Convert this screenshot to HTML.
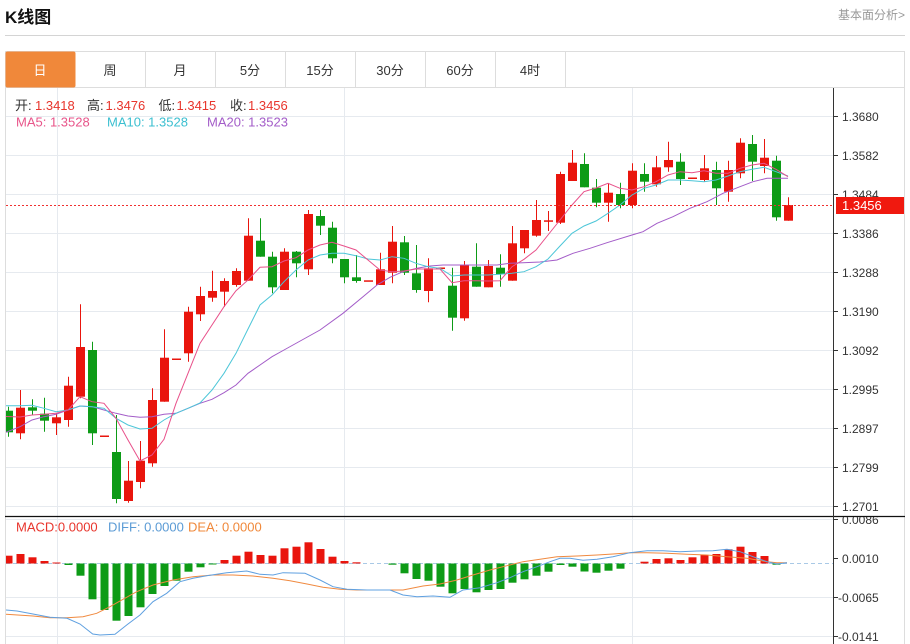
<!DOCTYPE html>
<html><head><meta charset="utf-8"><style>
html,body{margin:0;padding:0;background:#fff;width:910px;height:644px;overflow:hidden}
svg{display:block}
text{font-family:"Liberation Sans","Noto Sans CJK SC",sans-serif}
</style></head><body>
<svg width="910" height="644" viewBox="0 0 910 644" xmlns="http://www.w3.org/2000/svg">
<defs>
<clipPath id="plot"><rect x="6" y="88" width="827" height="428"/></clipPath>
<clipPath id="macd"><rect x="6" y="517" width="827" height="127"/></clipPath>
<clipPath id="maxis"><rect x="834" y="517" width="70" height="127"/></clipPath>
</defs>
<!-- header -->
<text x="5" y="23" font-size="17" font-weight="bold" fill="#111">K线图</text>
<text x="905" y="19" font-size="12" fill="#999" text-anchor="end">基本面分析&gt;</text>
<line x1="5" y1="35.5" x2="905" y2="35.5" stroke="#d4d4d4"/>
<!-- box -->
<rect x="5.5" y="51.5" width="899" height="600" fill="none" stroke="#ddd"/>
<line x1="5" y1="87.5" x2="905" y2="87.5" stroke="#ddd"/>
<!-- tabs -->
<rect x="5.5" y="51.5" width="70" height="36" rx="2" fill="#f0883a"/>
<g stroke="#ddd">
<line x1="145.5" y1="52" x2="145.5" y2="87"/><line x1="215.5" y1="52" x2="215.5" y2="87"/>
<line x1="285.5" y1="52" x2="285.5" y2="87"/><line x1="355.5" y1="52" x2="355.5" y2="87"/>
<line x1="425.5" y1="52" x2="425.5" y2="87"/><line x1="495.5" y1="52" x2="495.5" y2="87"/>
<line x1="565.5" y1="52" x2="565.5" y2="87"/>
</g>
<g font-size="13" text-anchor="middle" fill="#333">
<text x="40" y="75" fill="#fff">日</text>
<text x="110" y="75">周</text>
<text x="180" y="75">月</text>
<text x="250" y="75">5分</text>
<text x="320" y="75">15分</text>
<text x="390" y="75">30分</text>
<text x="460" y="75">60分</text>
<text x="530" y="75">4时</text>
</g>
<!-- grid -->
<g stroke="#e6eaef" stroke-width="1">
<line x1="6" y1="116.5" x2="833" y2="116.5"/>
<line x1="6" y1="155.5" x2="833" y2="155.5"/>
<line x1="6" y1="194.5" x2="833" y2="194.5"/>
<line x1="6" y1="233.5" x2="833" y2="233.5"/>
<line x1="6" y1="272.5" x2="833" y2="272.5"/>
<line x1="6" y1="311.5" x2="833" y2="311.5"/>
<line x1="6" y1="350.5" x2="833" y2="350.5"/>
<line x1="6" y1="389.5" x2="833" y2="389.5"/>
<line x1="6" y1="428.5" x2="833" y2="428.5"/>
<line x1="6" y1="467.5" x2="833" y2="467.5"/>
<line x1="6" y1="506.5" x2="833" y2="506.5"/>
<line x1="6" y1="519.5" x2="833" y2="519.5"/>
<line x1="6" y1="597.5" x2="833" y2="597.5"/>
<line x1="6" y1="636.5" x2="833" y2="636.5"/>
<line x1="57.5" y1="88" x2="57.5" y2="644"/>
<line x1="344.5" y1="88" x2="344.5" y2="644"/>
<line x1="632.5" y1="88" x2="632.5" y2="644"/>
</g>
<!-- info -->
<g font-size="13">
<text x="15" y="110" fill="#333">开:</text><text x="35" y="110" fill="#e8352c">1.3418</text>
<text x="87" y="110" fill="#333">高:</text><text x="105.5" y="110" fill="#e8352c">1.3476</text>
<text x="158.5" y="110" fill="#333">低:</text><text x="176.5" y="110" fill="#e8352c">1.3415</text>
<text x="230" y="110" fill="#333">收:</text><text x="248" y="110" fill="#e8352c">1.3456</text>
<text x="16" y="126.5" fill="#e8558a">MA5: 1.3528</text>
<text x="107" y="126.5" fill="#3bbfd0">MA10: 1.3528</text>
<text x="207" y="126.5" fill="#a35cc8">MA20: 1.3523</text>
</g>
<!-- candles -->
<g clip-path="url(#plot)">
<g stroke="#e9150d" fill="#e9150d">
<line x1="20.5" y1="390" x2="20.5" y2="439.3"/><rect x="16" y="407.7" width="9" height="25.6" stroke="none"/>
<line x1="56.5" y1="413.3" x2="56.5" y2="435"/><rect x="52" y="417.3" width="9" height="6" stroke="none"/>
<line x1="68.5" y1="376.7" x2="68.5" y2="426.7"/><rect x="64" y="385.7" width="9" height="34.3" stroke="none"/>
<line x1="80.5" y1="304.3" x2="80.5" y2="398.3"/><rect x="76" y="347" width="9" height="49.7" stroke="none"/>
<rect x="100" y="435.5" width="9" height="1.5" stroke="none"/>
<line x1="128.5" y1="461" x2="128.5" y2="502.7"/><rect x="124" y="480.7" width="9" height="20.3" stroke="none"/>
<line x1="140.5" y1="441" x2="140.5" y2="488.3"/><rect x="136" y="460.7" width="9" height="21.3" stroke="none"/>
<line x1="152.5" y1="388.3" x2="152.5" y2="466.7"/><rect x="148" y="400" width="9" height="63.3" stroke="none"/>
<line x1="164.5" y1="329.3" x2="164.5" y2="401.7"/><rect x="160" y="357.7" width="9" height="44" stroke="none"/>
<rect x="172" y="358.5" width="9" height="1.5" stroke="none"/>
<line x1="188.5" y1="306.7" x2="188.5" y2="361.7"/><rect x="184" y="311.7" width="9" height="41.6" stroke="none"/>
<line x1="200.5" y1="286.7" x2="200.5" y2="321"/><rect x="196" y="296" width="9" height="18.3" stroke="none"/>
<line x1="212.5" y1="270.7" x2="212.5" y2="301.7"/><rect x="208" y="291" width="9" height="6.7" stroke="none"/>
<line x1="224.5" y1="278.3" x2="224.5" y2="306.7"/><rect x="220" y="281" width="9" height="10.7" stroke="none"/>
<line x1="236.5" y1="268.3" x2="236.5" y2="286.7"/><rect x="232" y="271" width="9" height="14" stroke="none"/>
<line x1="248.5" y1="218.3" x2="248.5" y2="280.7"/><rect x="244" y="235.7" width="9" height="45" stroke="none"/>
<line x1="284.5" y1="248.3" x2="284.5" y2="290"/><rect x="280" y="251.7" width="9" height="38.3" stroke="none"/>
<line x1="308.5" y1="210" x2="308.5" y2="275"/><rect x="304" y="214" width="9" height="55.3" stroke="none"/>
<rect x="364" y="280.3" width="9" height="1.5" stroke="none"/>
<line x1="380.5" y1="252.7" x2="380.5" y2="285"/><rect x="376" y="269.3" width="9" height="15.7" stroke="none"/>
<line x1="392.5" y1="226" x2="392.5" y2="283.3"/><rect x="388" y="241.7" width="9" height="31" stroke="none"/>
<line x1="428.5" y1="258.3" x2="428.5" y2="302.3"/><rect x="424" y="268.3" width="9" height="22.7" stroke="none"/>
<rect x="436" y="267.5" width="9" height="1.5" stroke="none"/>
<line x1="464.5" y1="261" x2="464.5" y2="320.7"/><rect x="460" y="265" width="9" height="53.3" stroke="none"/>
<line x1="488.5" y1="260" x2="488.5" y2="287.3"/><rect x="484" y="266" width="9" height="21.3" stroke="none"/>
<line x1="512.5" y1="226" x2="512.5" y2="280.7"/><rect x="508" y="243.3" width="9" height="37.4" stroke="none"/>
<line x1="524.5" y1="230" x2="524.5" y2="253.3"/><rect x="520" y="230" width="9" height="18.3" stroke="none"/>
<line x1="536.5" y1="200" x2="536.5" y2="236.7"/><rect x="532" y="220" width="9" height="15.7" stroke="none"/>
<line x1="548.5" y1="211" x2="548.5" y2="231"/><rect x="544" y="220.3" width="9" height="1.5" stroke="none"/>
<line x1="560.5" y1="171.7" x2="560.5" y2="224"/><rect x="556" y="174" width="9" height="48.7" stroke="none"/>
<line x1="572.5" y1="150" x2="572.5" y2="181"/><rect x="568" y="162.7" width="9" height="18.3" stroke="none"/>
<line x1="608.5" y1="183.3" x2="608.5" y2="221.7"/><rect x="604" y="192.7" width="9" height="10" stroke="none"/>
<line x1="632.5" y1="163.3" x2="632.5" y2="208.3"/><rect x="628" y="170.7" width="9" height="34.3" stroke="none"/>
<line x1="656.5" y1="156" x2="656.5" y2="186.7"/><rect x="652" y="167.3" width="9" height="17" stroke="none"/>
<line x1="668.5" y1="141.7" x2="668.5" y2="171.7"/><rect x="664" y="160" width="9" height="7.3" stroke="none"/>
<rect x="688" y="177.5" width="9" height="1.5" stroke="none"/>
<line x1="704.5" y1="155" x2="704.5" y2="181.7"/><rect x="700" y="168.3" width="9" height="11.7" stroke="none"/>
<line x1="728.5" y1="160.7" x2="728.5" y2="201.7"/><rect x="724" y="170" width="9" height="21.7" stroke="none"/>
<line x1="740.5" y1="138.3" x2="740.5" y2="178.3"/><rect x="736" y="142.7" width="9" height="30.6" stroke="none"/>
<line x1="764.5" y1="139" x2="764.5" y2="173.3"/><rect x="760" y="157.7" width="9" height="8.3" stroke="none"/>
<line x1="788.5" y1="197.3" x2="788.5" y2="220.7"/><rect x="784" y="205" width="9" height="15.7" stroke="none"/>
</g>
<g stroke="#0d9b16" fill="#0d9b16">
<line x1="8.5" y1="406.7" x2="8.5" y2="436.7"/><rect x="4" y="410.7" width="9" height="21.6" stroke="none"/>
<line x1="32.5" y1="399.3" x2="32.5" y2="415"/><rect x="28" y="407.3" width="9" height="3.4" stroke="none"/>
<line x1="44.5" y1="397.7" x2="44.5" y2="431.7"/><rect x="40" y="413.7" width="9" height="7" stroke="none"/>
<line x1="92.5" y1="341.7" x2="92.5" y2="445"/><rect x="88" y="350" width="9" height="83.3" stroke="none"/>
<line x1="116.5" y1="415" x2="116.5" y2="503.3"/><rect x="112" y="452" width="9" height="47" stroke="none"/>
<line x1="260.5" y1="218.3" x2="260.5" y2="256.7"/><rect x="256" y="240.7" width="9" height="16" stroke="none"/>
<line x1="272.5" y1="251.7" x2="272.5" y2="293.3"/><rect x="268" y="256.7" width="9" height="30.6" stroke="none"/>
<line x1="296.5" y1="251" x2="296.5" y2="277.3"/><rect x="292" y="251.7" width="9" height="11.6" stroke="none"/>
<line x1="320.5" y1="210" x2="320.5" y2="235"/><rect x="316" y="216" width="9" height="9.7" stroke="none"/>
<line x1="332.5" y1="221.7" x2="332.5" y2="263.3"/><rect x="328" y="227.7" width="9" height="30.6" stroke="none"/>
<line x1="344.5" y1="259" x2="344.5" y2="283.3"/><rect x="340" y="259" width="9" height="18.3" stroke="none"/>
<line x1="356.5" y1="255" x2="356.5" y2="282.7"/><rect x="352" y="277.3" width="9" height="3.7" stroke="none"/>
<line x1="404.5" y1="236" x2="404.5" y2="275"/><rect x="400" y="242.3" width="9" height="30.4" stroke="none"/>
<line x1="416.5" y1="245" x2="416.5" y2="292.7"/><rect x="412" y="273.3" width="9" height="16.7" stroke="none"/>
<line x1="452.5" y1="267.7" x2="452.5" y2="330.7"/><rect x="448" y="285.7" width="9" height="32" stroke="none"/>
<line x1="476.5" y1="243.3" x2="476.5" y2="286.7"/><rect x="472" y="266.7" width="9" height="20" stroke="none"/>
<line x1="500.5" y1="254.3" x2="500.5" y2="286.7"/><rect x="496" y="267.7" width="9" height="6.3" stroke="none"/>
<line x1="584.5" y1="153.3" x2="584.5" y2="187.3"/><rect x="580" y="164" width="9" height="23.3" stroke="none"/>
<line x1="596.5" y1="179" x2="596.5" y2="207.3"/><rect x="592" y="187.7" width="9" height="15" stroke="none"/>
<line x1="620.5" y1="182.7" x2="620.5" y2="208.3"/><rect x="616" y="194" width="9" height="11" stroke="none"/>
<line x1="644.5" y1="163.3" x2="644.5" y2="191.7"/><rect x="640" y="174" width="9" height="7.7" stroke="none"/>
<line x1="680.5" y1="153.3" x2="680.5" y2="185"/><rect x="676" y="161.7" width="9" height="17.3" stroke="none"/>
<line x1="716.5" y1="161.7" x2="716.5" y2="205"/><rect x="712" y="170" width="9" height="18.3" stroke="none"/>
<line x1="752.5" y1="135" x2="752.5" y2="181"/><rect x="748" y="144" width="9" height="17.7" stroke="none"/>
<line x1="776.5" y1="155.7" x2="776.5" y2="220.7"/><rect x="772" y="160.7" width="9" height="56.6" stroke="none"/>
</g>
<!-- MA lines -->
<polyline fill="none" stroke="#a35cc8" stroke-width="1" points="6,432.3 20,426.7 32,420 44,416.7 56,414.3 68,410 80,406 92,406.7 104,410 116,413.3 128,416 140,417.3 152,416.7 164,414.3 176,413.3 188,408.3 200,403.3 212,399.3 224,392.7 236,385 248,373.3 260,365 272,356.7 284,350 302,340 320,330 343,313.3 363,296.7 377,285 390,277.3 403,271.7 417,268.3 430,266 443,265 470,265 497,265 510,263.3 523,262.7 540,262 557,260 573,253.3 590,248.3 607,242.7 632,235 643,231.7 657,223.3 673,216.7 690,208.3 707,201.7 723,193.3 740,186.7 753,181.7 767,178.3 788,178.3"/>
<polyline fill="none" stroke="#4cc6d8" stroke-width="1" points="6,405.7 20,405.7 32,405.3 44,408.3 56,411.7 68,410 80,406 92,406.7 104,408.3 116,418.3 128,425 140,429 152,428.3 164,420 176,413.3 188,408.3 200,403 212,390 224,373.3 236,353.3 248,329 260,305 272,295 284,281.7 296,270 308,260 320,255 332,253.3 344,253.3 356,255.7 368,259 380,260 392,256.7 404,258.3 416,263.3 428,266.7 440,268.3 452,276 464,275 476,275 488,275 500,274.3 512,273.3 524,271.7 536,266.7 548,259 560,246 572,233.3 584,226 596,221 608,213.3 620,205 632,195 644,188.3 656,185 668,180 680,180 692,180.7 704,181.7 716,180 728,176 740,171.7 752,169.3 764,167.3 776,171.7 788,176"/>
<polyline fill="none" stroke="#e8508a" stroke-width="1" points="6,416.5 20,417 32,415 44,414.3 56,413.3 68,410 80,396.7 92,401.7 104,403.3 116,418.3 128,440 140,461 152,455 164,439.3 176,403.3 188,373.3 200,343.3 212,325 224,306.7 236,290.7 248,280 260,267.3 272,266.7 284,261 296,257.7 308,250 320,245 332,242.3 344,246 356,250 368,260 380,270 392,271.7 404,271 416,269 428,269 440,269 452,282.7 464,280.7 476,280.7 488,281 500,280.7 512,266.7 524,259.3 536,250 548,235 560,220 572,205 584,191.7 596,188 608,183.3 620,188.3 632,190 644,186.7 656,181.7 668,175 680,171.7 692,172.7 704,170.7 716,173.3 728,173.3 740,168.3 752,165 764,163.3 776,169.3 788,176.7"/>
</g>
<!-- current price line -->
<line x1="6" y1="205.5" x2="833" y2="205.5" stroke="#f03030" stroke-width="1" stroke-dasharray="2,2"/>
<!-- MACD -->
<g clip-path="url(#macd)">
<line x1="6" y1="563.5" x2="833" y2="563.5" stroke="#a9c9e6" stroke-dasharray="4,3"/>
<g fill="#e9150d">
<rect x="4.5" y="555.7" width="8" height="7.8"/>
<rect x="16.5" y="554" width="8" height="9.5"/>
<rect x="28.5" y="557.3" width="8" height="6.2"/>
<rect x="40.5" y="561" width="8" height="2.5"/>
<rect x="52.5" y="562.5" width="8" height="1"/>
<rect x="220.5" y="560" width="8" height="3.5"/>
<rect x="232.5" y="555.7" width="8" height="7.8"/>
<rect x="244.5" y="551.7" width="8" height="11.8"/>
<rect x="256.5" y="555" width="8" height="8.5"/>
<rect x="268.5" y="555.7" width="8" height="7.8"/>
<rect x="280.5" y="548.3" width="8" height="15.2"/>
<rect x="292.5" y="546.7" width="8" height="16.8"/>
<rect x="304.5" y="542.3" width="8" height="21.2"/>
<rect x="316.5" y="549" width="8" height="14.5"/>
<rect x="328.5" y="556.7" width="8" height="6.8"/>
<rect x="340.5" y="561" width="8" height="2.5"/>
<rect x="352.5" y="562.3" width="8" height="1.2"/>
<rect x="640.5" y="561.7" width="8" height="1.8"/>
<rect x="652.5" y="559" width="8" height="4.5"/>
<rect x="664.5" y="558.3" width="8" height="5.2"/>
<rect x="676.5" y="560" width="8" height="3.5"/>
<rect x="688.5" y="557.3" width="8" height="6.2"/>
<rect x="700.5" y="555" width="8" height="8.5"/>
<rect x="712.5" y="554" width="8" height="9.5"/>
<rect x="724.5" y="549.3" width="8" height="14.2"/>
<rect x="736.5" y="546.7" width="8" height="16.8"/>
<rect x="748.5" y="552" width="8" height="11.5"/>
<rect x="760.5" y="556" width="8" height="7.5"/>
</g>
<g fill="#0d9b16">
<rect x="64.5" y="563.5" width="8" height="1.5"/>
<rect x="76.5" y="563.5" width="8" height="12.2"/>
<rect x="88.5" y="563.5" width="8" height="35.8"/>
<rect x="100.5" y="563.5" width="8" height="46.5"/>
<rect x="112.5" y="563.5" width="8" height="57.2"/>
<rect x="124.5" y="563.5" width="8" height="52.5"/>
<rect x="136.5" y="563.5" width="8" height="43.8"/>
<rect x="148.5" y="563.5" width="8" height="30.5"/>
<rect x="160.5" y="563.5" width="8" height="22.5"/>
<rect x="172.5" y="563.5" width="8" height="17.2"/>
<rect x="184.5" y="563.5" width="8" height="8.2"/>
<rect x="196.5" y="563.5" width="8" height="3.8"/>
<rect x="208.5" y="563.5" width="8" height="1"/>
<rect x="388.5" y="563.5" width="8" height="1.2"/>
<rect x="400.5" y="563.5" width="8" height="9.8"/>
<rect x="412.5" y="563.5" width="8" height="15.5"/>
<rect x="424.5" y="563.5" width="8" height="17.2"/>
<rect x="436.5" y="563.5" width="8" height="23.2"/>
<rect x="448.5" y="563.5" width="8" height="29.8"/>
<rect x="460.5" y="563.5" width="8" height="25.5"/>
<rect x="472.5" y="563.5" width="8" height="28.8"/>
<rect x="484.5" y="563.5" width="8" height="26.5"/>
<rect x="496.5" y="563.5" width="8" height="25.5"/>
<rect x="508.5" y="563.5" width="8" height="19.2"/>
<rect x="520.5" y="563.5" width="8" height="15.8"/>
<rect x="532.5" y="563.5" width="8" height="12.2"/>
<rect x="544.5" y="563.5" width="8" height="8.2"/>
<rect x="556.5" y="563.5" width="8" height="1.5"/>
<rect x="568.5" y="563.5" width="8" height="3.2"/>
<rect x="580.5" y="563.5" width="8" height="8"/>
<rect x="592.5" y="563.5" width="8" height="9.2"/>
<rect x="604.5" y="563.5" width="8" height="7.2"/>
<rect x="616.5" y="563.5" width="8" height="5.2"/>
<rect x="772.5" y="563.5" width="8" height="1.2"/>
</g>
<polyline fill="none" stroke="#f08a40" stroke-width="1" points="6,614.3 33,616 50,617.7 67,617.7 83,616.7 96.7,613.3 110,606.7 123,599.3 136.7,591.7 153,585 173,580 193,576.7 213,575 233,575 253,576 273,578.3 290,580.7 307,584 323,587.3 340,589.3 357,590 403,590 423,586 440,584 457,580 473,575 490,570 507,565.7 523,561.7 540,559.3 557,556.7 577,556 597,555 613,554 630,552.7 647,552.7 667,553.3 687,554.3 707,555 727,556.7 747,558.3 767,561.7 777,562.7 787,562.7"/>
<polyline fill="none" stroke="#5fa0e0" stroke-width="1" points="6,610 17,611 33,614 50,617.3 67,618.3 80,624 92.7,634 100,635 115,634.3 126.7,625 140,615 153,601.7 166.7,593.3 180,581.7 193,578.3 206.7,575.7 226.7,572.7 246.7,571 260,574.3 273,575 283,572.7 305,573.3 320,580 333,586.7 347,589.3 367,590 390,590 403,595 417,596.7 433,596 450,597.3 463,590 480,587.7 497,582.7 510,577.7 523,571.7 537,566.7 550,561.7 560,558.3 570,558.3 583,560.3 597,559.3 613,556.7 630,552.7 647,550.7 663,550.7 680,551.7 697,551 713,550.7 727,549.3 740,551.7 753,556.7 767,561.7 777,564 787,562.7"/>
</g>
<g font-size="13">
<text x="16" y="531.5" fill="#e8352c">MACD:0.0000</text>
<text x="108" y="531.5" fill="#5b9bd5">DIFF: 0.0000</text>
<text x="188" y="531.5" fill="#f0883a">DEA: 0.0000</text>
</g>
<!-- separator -->
<line x1="5" y1="516.5" x2="905" y2="516.5" stroke="#111" stroke-width="1.2"/>
<!-- axis -->
<line x1="833.5" y1="88" x2="833.5" y2="644" stroke="#333"/>
<g stroke="#333">
<line x1="833" y1="116.5" x2="838" y2="116.5"/><line x1="833" y1="155.5" x2="838" y2="155.5"/>
<line x1="833" y1="194.5" x2="838" y2="194.5"/><line x1="833" y1="233.5" x2="838" y2="233.5"/>
<line x1="833" y1="272.5" x2="838" y2="272.5"/><line x1="833" y1="311.5" x2="838" y2="311.5"/>
<line x1="833" y1="350.5" x2="838" y2="350.5"/><line x1="833" y1="389.5" x2="838" y2="389.5"/>
<line x1="833" y1="428.5" x2="838" y2="428.5"/><line x1="833" y1="467.5" x2="838" y2="467.5"/>
<line x1="833" y1="506.5" x2="838" y2="506.5"/>
<line x1="833" y1="519.5" x2="838" y2="519.5"/><line x1="833" y1="558.5" x2="838" y2="558.5"/>
<line x1="833" y1="597.5" x2="838" y2="597.5"/><line x1="833" y1="636.5" x2="838" y2="636.5"/>
</g>
<g font-size="12" fill="#333">
<text x="842" y="121">1.3680</text>
<text x="842" y="160">1.3582</text>
<text x="842" y="199">1.3484</text>
<text x="842" y="238">1.3386</text>
<text x="842" y="277">1.3288</text>
<text x="842" y="316">1.3190</text>
<text x="842" y="355">1.3092</text>
<text x="842" y="394">1.2995</text>
<text x="842" y="433">1.2897</text>
<text x="842" y="472">1.2799</text>
<text x="842" y="511">1.2701</text>
<g clip-path="url(#maxis)">
<text x="842" y="524">0.0086</text>
</g>
<text x="842" y="563">0.0010</text>
<text x="838" y="602">-0.0065</text>
<text x="838" y="641">-0.0141</text>
</g>
<rect x="836" y="197" width="68" height="17" fill="#f0190f"/>
<text x="842" y="210" font-size="13" fill="#fff">1.3456</text>
</svg>
</body></html>
